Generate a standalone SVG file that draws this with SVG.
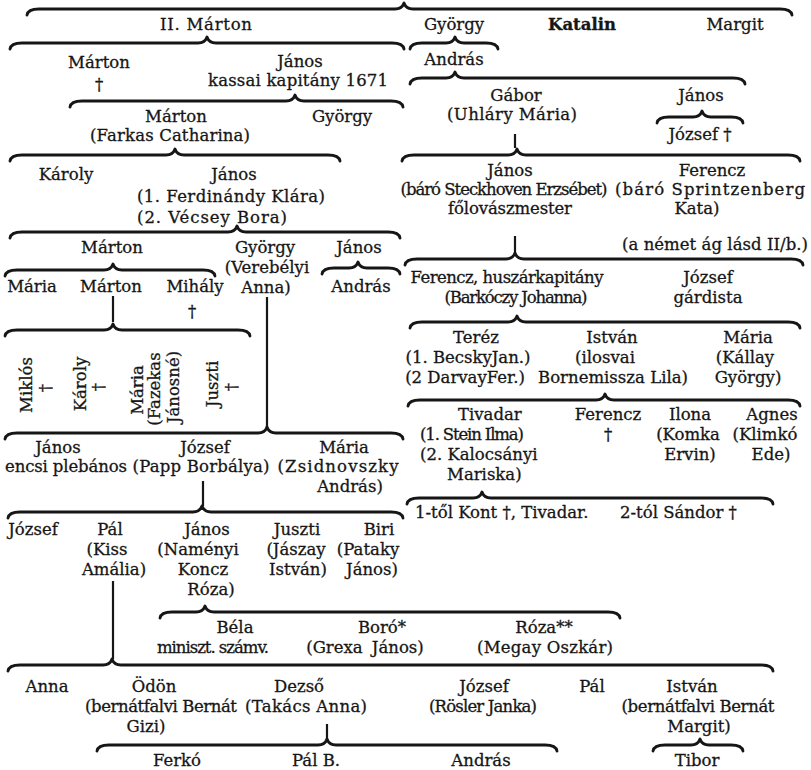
<svg xmlns="http://www.w3.org/2000/svg" width="811" height="770" viewBox="0 0 811 770">
<style>
text{font-family:"DejaVu Serif","Liberation Serif",serif;font-size:16.5px;fill:#161616;stroke:#161616;stroke-width:0.3;text-anchor:middle}
text.s{text-anchor:start}
.br{fill:none;stroke:#161616;stroke-width:2.8;stroke-linecap:round;stroke-linejoin:round}
.v{fill:none;stroke:#161616;stroke-width:2.2}
</style>
<rect width="811" height="770" fill="#fff"/>
<g id="connectors">
<path class="br" d="M27 15 Q28 9 39 9 L395 9 Q402 9 404 3 Q406 9 413 9 L780 9 Q791 9 792 15"/>
<path class="br" d="M10 49 Q11 43 22 43 L198 43 Q205 43 207 37 Q209 43 216 43 L392 43 Q403 43 404 49"/>
<path class="br" d="M410 49 Q411 43 422 43 L446 43 Q453 43 455 37 Q457 43 464 43 L486 43 Q497 43 498 49"/>
<path class="br" d="M70 107 Q71 101 82 101 L286 101 Q293 101 295 95 Q297 101 304 101 L391 101 Q402 101 403 107"/>
<path class="br" d="M410 84 Q411 78 422 78 L446 78 Q453 78 455 72 Q457 78 464 78 L733 78 Q744 78 745 84"/>
<path class="br" d="M657 123 Q658 117 669 117 L693 117 Q700 117 702 111 Q704 117 711 117 L731 117 Q742 117 743 123"/>
<path class="br" d="M10 161 Q11 155 22 155 L166 155 Q173 155 175 149 Q177 155 184 155 L328 155 Q339 155 340 161"/>
<path class="br" d="M402 161 Q403 155 414 155 L508 155 Q515 155 517 149 Q519 155 526 155 L788 155 Q799 155 800 161"/>
<path class="br" d="M10 238 Q11 232 22 232 L228 232 Q235 232 237 226 Q239 232 246 232 L388 232 Q399 232 400 238"/>
<path class="br" d="M405 265 Q406 259 417 259 L506 259 Q513 259 515 253 Q517 259 524 259 L791 259 Q802 259 803 265"/>
<path class="br" d="M5 276 Q6 270 17 270 L104 270 Q111 270 113 264 Q115 270 122 270 L203 270 Q214 270 215 276"/>
<path class="br" d="M322 274 Q323 268 334 268 L349 268 Q356 268 358 262 Q360 268 367 268 L388 268 Q399 268 400 274"/>
<path class="br" d="M410 328 Q411 322 422 322 L508 322 Q515 322 517 316 Q519 322 526 322 L788 322 Q799 322 800 328"/>
<path class="br" d="M5 336 Q6 330 17 330 L104 330 Q111 330 113 324 Q115 330 122 330 L238 330 Q249 330 250 336"/>
<path class="br" d="M408 406 Q409 400 420 400 L596 400 Q603 400 605 394 Q607 400 614 400 L788 400 Q799 400 800 406"/>
<path class="br" d="M5 439 Q6 433 17 433 L258 433 Q265 433 267 427 Q269 433 276 433 L391 433 Q402 433 403 439"/>
<path class="br" d="M407 504 Q408 498 419 498 L473 498 Q480 498 482 492 Q484 498 491 498 L761 498 Q772 498 773 504"/>
<path class="br" d="M8 518 Q9 512 20 512 L193 512 Q200 512 202 506 Q204 512 211 512 L391 512 Q402 512 403 518"/>
<path class="br" d="M160 618 Q161 612 172 612 L196 612 Q203 612 205 606 Q207 612 214 612 L608 612 Q619 612 620 618"/>
<path class="br" d="M8 671 Q9 665 20 665 L103 665 Q110 665 112 659 Q114 665 121 665 L761 665 Q772 665 773 671"/>
<path class="br" d="M97 751 Q98 745 109 745 L318 745 Q325 745 327 739 Q329 745 336 745 L545 745 Q556 745 557 751"/>
<path class="br" d="M653 751 Q654 745 665 745 L691 745 Q698 745 700 739 Q702 745 709 745 L731 745 Q742 745 743 751"/>
<path class="v" d="M515 134 V148 M515 236 V254 M113 296 V322 M267 297 V427 M203 481 V506 M113 581 V659 M327 724 V739"/>
</g>
<g id="n-ii-marton"><text x="206" y="30" textLength="92">II. Márton</text></g>
<g id="n-gyorgy-1"><text x="454" y="30">György</text></g>
<g id="n-katalin"><text x="582" y="30" font-weight="bold">Katalin</text></g>
<g id="n-margit"><text x="735" y="30">Margit</text></g>
<g id="n-marton-2"><text x="99" y="68">Márton</text><text x="99" y="90">†</text></g>
<g id="n-janos-2"><text x="300" y="67">János</text><text x="298" y="86" textLength="180">kassai kapitány 1671</text></g>
<g id="n-andras-2"><text x="454" y="65">András</text></g>
<g id="n-marton-3"><text x="176" y="122">Márton</text><text x="170" y="141" textLength="160">(Farkas Catharina)</text></g>
<g id="n-gyorgy-3"><text x="342" y="122">György</text></g>
<g id="n-gabor"><text x="516" y="101">Gábor</text><text x="512" y="120" textLength="130">(Uhláry Mária)</text></g>
<g id="n-janos-3"><text x="701" y="101">János</text></g>
<g id="n-jozsef-3"><text x="700" y="140">József †</text></g>
<g id="n-karoly-4"><text x="66" y="180">Károly</text></g>
<g id="n-janos-4"><text x="234" y="180">János</text><text class="s" x="137" y="202" textLength="188">(1. Ferdinándy Klára)</text><text class="s" x="137" y="223" textLength="150">(2. Vécsey Bora)</text></g>
<g id="n-janos-4r"><text x="510" y="176">János</text><text x="504" y="195" textLength="207">(báró Steckhoven Erzsébet)</text><text x="510" y="214" textLength="124">főlovászmester</text></g>
<g id="n-ferencz-4"><text x="712" y="176">Ferencz</text><text x="710" y="195" textLength="190">(báró Sprintzenberg</text><text x="697" y="214">Kata)</text><text x="715" y="250" textLength="186">(a német ág lásd II/b.)</text></g>
<g id="n-marton-5"><text x="112" y="253">Márton</text></g>
<g id="n-gyorgy-5"><text x="265" y="253">György</text><text x="267" y="273">(Verebélyi</text><text x="266" y="293">Anna)</text></g>
<g id="n-janos-5"><text x="359" y="253">János</text></g>
<g id="n-maria-6"><text x="32" y="292">Mária</text></g>
<g id="n-marton-6"><text x="111" y="292">Márton</text></g>
<g id="n-mihaly-6"><text x="195" y="292">Mihály</text><text x="192" y="317">†</text></g>
<g id="n-andras-6"><text x="361" y="292">András</text></g>
<g id="n-ferencz-5"><text x="507" y="283" textLength="193">Ferencz, huszárkapitány</text><text x="516" y="303" textLength="143">(Barkóczy Johanna)</text></g>
<g id="n-jozsef-5"><text x="708" y="283">József</text><text x="708" y="303">gárdista</text></g>
<g id="n-miklos"><text transform="translate(32,385) rotate(-90)">Miklós</text><text transform="translate(51,388) rotate(-90)">†</text></g>
<g id="n-karoly-7"><text transform="translate(86,384) rotate(-90)">Károly</text><text transform="translate(104,387) rotate(-90)">†</text></g>
<g id="n-maria-7"><text transform="translate(143,390) rotate(-90)">Mária</text><text transform="translate(160,389) rotate(-90)">(Fazekas</text><text transform="translate(179,387) rotate(-90)">Jánosné)</text></g>
<g id="n-juszti-7"><text transform="translate(218,384) rotate(-90)">Juszti</text><text transform="translate(237,387) rotate(-90)">†</text></g>
<g id="n-terez"><text x="476" y="343">Teréz</text><text x="468" y="363" textLength="125">(1. BecskyJan.)</text><text x="465" y="383">(2 DarvayFer.)</text></g>
<g id="n-istvan-7"><text x="612" y="343">István</text><text x="605" y="363">(ilosvai</text><text x="613" y="383" textLength="150">Bornemissza Lila)</text></g>
<g id="n-maria-7r"><text x="748" y="343">Mária</text><text x="745" y="363">(Kállay</text><text x="748" y="383">György)</text></g>
<g id="n-tivadar"><text class="s" x="458" y="420">Tivadar</text><text class="s" x="420" y="440" textLength="104">(1. Stein Ilma)</text><text class="s" x="420" y="460">(2. Kalocsányi</text><text class="s" x="447" y="480">Mariska)</text></g>
<g id="n-ferencz-8"><text x="608" y="420">Ferencz</text><text x="608" y="440">†</text></g>
<g id="n-ilona"><text x="690" y="420">Ilona</text><text x="688" y="440">(Komka</text><text x="690" y="460">Ervin)</text></g>
<g id="n-agnes"><text x="772" y="420">Agnes</text><text x="765" y="440">(Klimkó</text><text x="771" y="460">Ede)</text></g>
<g id="n-tivadar-children"><text class="s" x="415" y="518">1-től Kont †, Tivadar.<tspan x="620">2-tól Sándor †</tspan></text></g>
<g id="n-janos-9"><text x="58" y="453">János</text><text x="66" y="472" textLength="122">encsi plebános</text></g>
<g id="n-jozsef-9"><text x="205" y="453">József</text><text x="201" y="472" textLength="137">(Papp Borbálya)</text></g>
<g id="n-maria-9"><text x="344" y="453">Mária</text><text x="338" y="472" textLength="121">(Zsidnovszky</text><text x="350" y="492">András)</text></g>
<g id="n-jozsef-10"><text x="33" y="535">József</text></g>
<g id="n-pal-10"><text x="110" y="535">Pál</text><text x="107" y="555">(Kiss</text><text x="114" y="575">Amália)</text></g>
<g id="n-janos-10"><text x="207" y="535">János</text><text x="198" y="555">(Naményi</text><text x="203" y="575">Koncz</text><text x="211" y="595">Róza)</text></g>
<g id="n-juszti-10"><text x="297" y="535">Juszti</text><text x="296" y="555">(Jászay</text><text x="298" y="575">István)</text></g>
<g id="n-biri"><text x="379" y="535">Biri</text><text x="368" y="555">(Pataky</text><text x="372" y="575">János)</text></g>
<g id="n-bela"><text x="235" y="633">Béla</text><text x="213" y="653" textLength="112">miniszt. számv.</text></g>
<g id="n-boro"><text x="365" y="633" dx="17">Boró*</text><text x="365" y="653" word-spacing="4">(Grexa János)</text></g>
<g id="n-roza"><text x="544" y="633">Róza**</text><text x="545" y="653" textLength="136">(Megay Oszkár)</text></g>
<g id="n-anna"><text x="47" y="692">Anna</text></g>
<g id="n-odon"><text x="154" y="692">Ödön</text><text x="161" y="712" textLength="152">(bernátfalvi Bernát</text><text x="146" y="732">Gizi)</text></g>
<g id="n-dezso"><text x="299" y="692">Dezső</text><text x="306" y="712" textLength="122">(Takács Anna)</text></g>
<g id="n-jozsef-12"><text x="484" y="692">József</text><text x="483" y="712" textLength="108">(Rösler Janka)</text></g>
<g id="n-pal-12"><text x="592" y="692">Pál</text></g>
<g id="n-istvan-12"><text x="692" y="692">István</text><text x="698" y="712" textLength="153">(bernátfalvi Bernát</text><text x="699" y="732">Margit)</text></g>
<g id="n-ferko"><text x="177" y="766">Ferkó</text></g>
<g id="n-pal-b"><text x="316" y="766">Pál B.</text></g>
<g id="n-andras-13"><text x="481" y="766">András</text></g>
<g id="n-tibor"><text x="697" y="766">Tibor</text></g>
</svg>
